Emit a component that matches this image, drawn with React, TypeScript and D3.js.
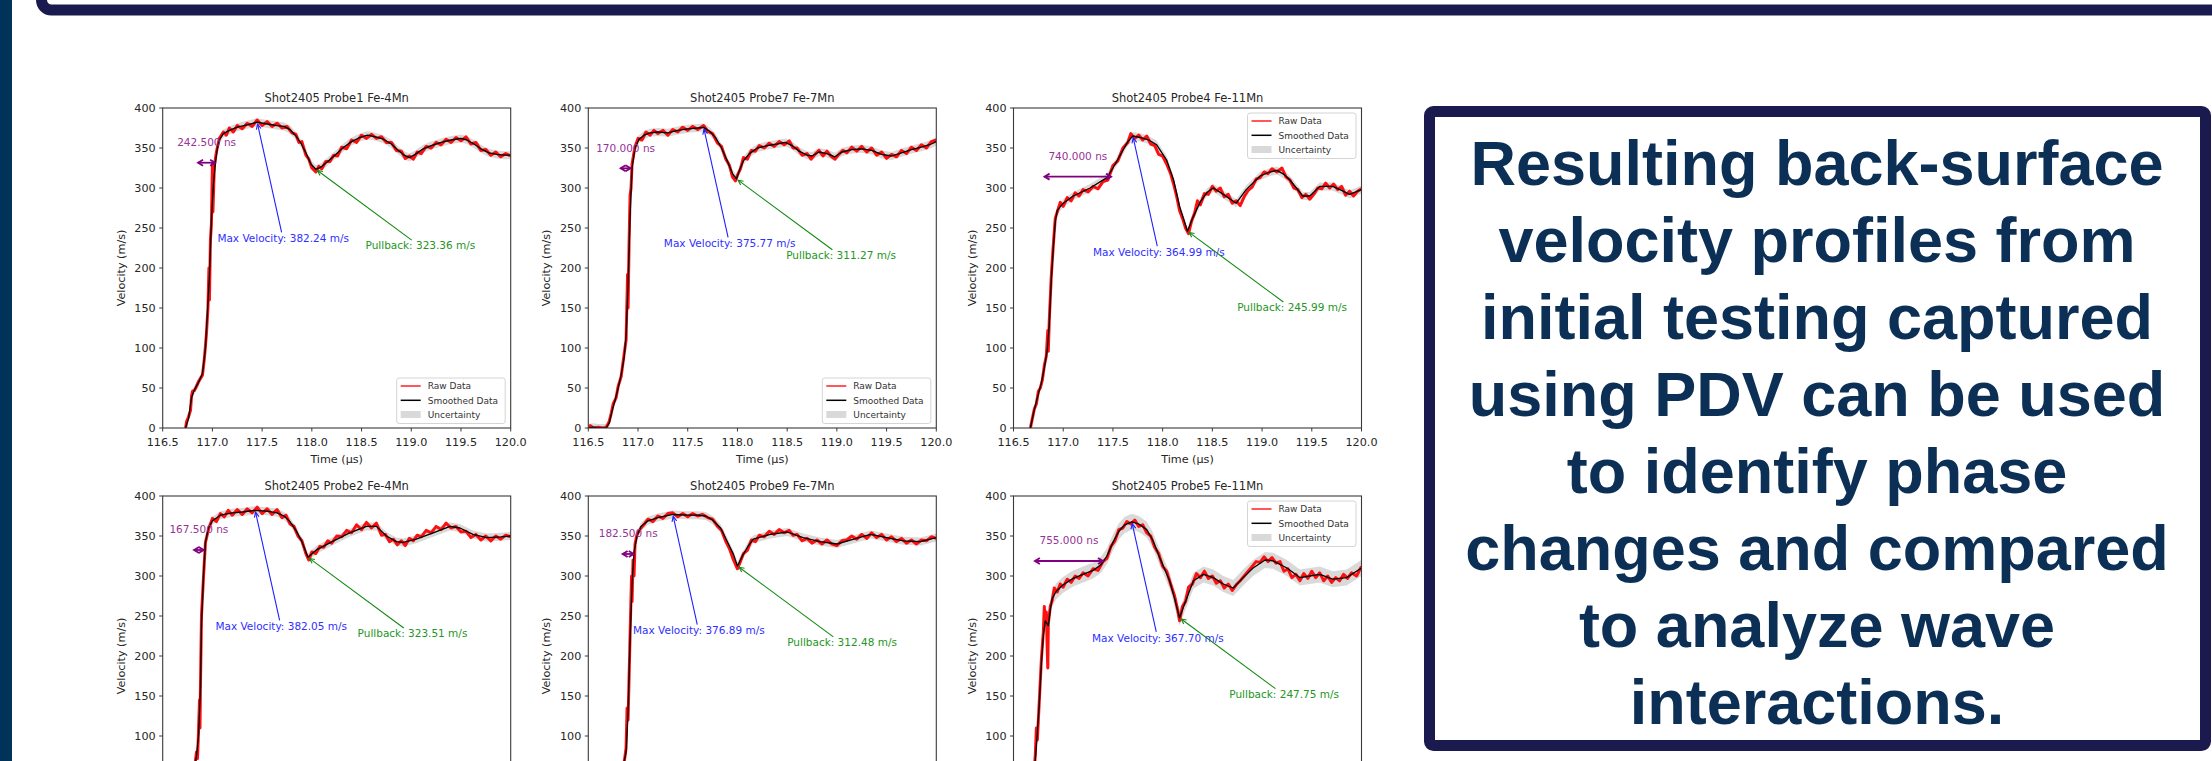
import React from 'react';
import * as d3 from 'd3';

type Pt = [number, number];

// ---- axes ----
const TIME_TICKS = [116.5, 117.0, 117.5, 118.0, 118.5, 119.0, 119.5, 120.0];
const VELOCITY_TICKS = [0, 50, 100, 150, 200, 250, 300, 350, 400];
const TIME_DOMAIN: Pt = [116.5, 120.0];
const VELOCITY_DOMAIN: Pt = [0, 400];

// ---- panel titles (row-major) ----
const PANEL_TITLES = [
  'Shot2405 Probe1 Fe-4Mn',
  'Shot2405 Probe7 Fe-7Mn',
  'Shot2405 Probe4 Fe-11Mn',
  'Shot2405 Probe2 Fe-4Mn',
  'Shot2405 Probe9 Fe-7Mn',
  'Shot2405 Probe5 Fe-11Mn',
];

// ---- annotated quantities ----
const MAX_VELOCITY = [382.24, 375.77, 364.99, 382.05, 376.89, 367.7];
const MAX_TIME = [117.45, 117.66, 117.7, 117.43, 117.35, 117.69];
const PULLBACK_VELOCITY = [323.36, 311.27, 245.99, 323.51, 312.48, 247.75];
const PULLBACK_TIME = [118.04, 117.99, 118.25, 117.96, 118.0, 118.17];
const RISE_NS = [242.5, 170.0, 740.0, 167.5, 182.5, 755.0];
const RISE_START = [116.82, 116.79, 116.777, 116.78, 116.81, 116.68];
const RISE_LEVEL = [331.6, 324.6, 314.2, 332.5, 327.5, 318.75];
const UNCERTAINTY = [5, 5, 5, 5, 5, 10];
const LEGEND_CORNER = ['lower', 'lower', 'upper', 'lower', 'lower', 'upper'];
const LEGEND_LABELS = ['Raw Data', 'Smoothed Data', 'Uncertainty'];

// ---- smoothed velocity traces [time µs, velocity m/s] ----
const SMOOTH_PROBE1: Pt[] = [
  [116.73, 0], [116.76, 12], [116.79, 38], [116.82, 48], [116.86, 57], [116.9, 68], [116.93, 100],
  [116.95, 144], [116.97, 190], [116.99, 260], [117.01, 305], [117.03, 332], [117.05, 350], [117.07, 360],
  [117.11, 368], [117.17, 372], [117.25, 376], [117.35, 379], [117.45, 382.24], [117.55, 380], [117.65, 378],
  [117.72, 377], [117.78, 373], [117.84, 365], [117.89, 356], [117.94, 344], [117.99, 330], [118.04, 323.36],
  [118.09, 326], [118.16, 333], [118.24, 342], [118.32, 351], [118.4, 358], [118.48, 363], [118.56, 366],
  [118.64, 364], [118.72, 361], [118.8, 355], [118.87, 347], [118.93, 341], [118.98, 338], [119.04, 342],
  [119.12, 349], [119.2, 353], [119.3, 357], [119.4, 360], [119.5, 362], [119.56, 360], [119.63, 355],
  [119.7, 349], [119.78, 344], [119.86, 342], [119.94, 341], [120.0, 341],
];
const SMOOTH_PROBE7: Pt[] = [
  [116.5, 0], [116.55, 1], [116.6, 0], [116.68, 0], [116.71, 6], [116.74, 22], [116.77, 35], [116.8, 50],
  [116.83, 66], [116.86, 88], [116.88, 115], [116.9, 180], [116.92, 265], [116.94, 325], [116.97, 350],
  [117.01, 361], [117.06, 366], [117.12, 369], [117.2, 370], [117.3, 369], [117.4, 372], [117.5, 374],
  [117.6, 375], [117.66, 375.77], [117.72, 371], [117.78, 363], [117.84, 350], [117.9, 333], [117.95, 318],
  [117.99, 311.27], [118.02, 322], [118.06, 334], [118.12, 343], [118.2, 350], [118.3, 353], [118.4, 355],
  [118.48, 357], [118.55, 353], [118.62, 346], [118.7, 341], [118.75, 340], [118.82, 345], [118.9, 343],
  [118.98, 339], [119.05, 345], [119.15, 348], [119.25, 349], [119.35, 347], [119.45, 342], [119.55, 340],
  [119.65, 344], [119.75, 348], [119.85, 351], [119.95, 355], [120.0, 358],
];
const SMOOTH_PROBE4: Pt[] = [
  [116.67, 0], [116.7, 18], [116.74, 38], [116.78, 56], [116.81, 75], [116.84, 98], [116.86, 130],
  [116.88, 185], [116.9, 225], [116.92, 258], [116.94, 272], [117.0, 281], [117.1, 290], [117.27, 300],
  [117.44, 313], [117.5, 325], [117.55, 336], [117.6, 347], [117.65, 358], [117.7, 364.99], [117.78, 363],
  [117.86, 360], [117.94, 354], [118.04, 335], [118.11, 310], [118.17, 277], [118.25, 245.99], [118.3, 262],
  [118.38, 283], [118.45, 295], [118.51, 300], [118.61, 292], [118.74, 281], [118.84, 298], [118.98, 315],
  [119.08, 320], [119.15, 322], [119.22, 317], [119.28, 310], [119.41, 290], [119.48, 290], [119.58, 302],
  [119.71, 302], [119.8, 297], [119.88, 292], [120.0, 298],
];
const SMOOTH_PROBE2: Pt[] = [
  [116.72, 0], [116.75, 15], [116.78, 35], [116.81, 55], [116.84, 75], [116.86, 100], [116.88, 160],
  [116.89, 240], [116.91, 300], [116.93, 342], [116.96, 360], [117.0, 369], [117.08, 376], [117.2, 379],
  [117.3, 380], [117.43, 382.05], [117.55, 381], [117.65, 379], [117.72, 375], [117.78, 368], [117.84, 357],
  [117.9, 343], [117.96, 323.51], [118.05, 333], [118.22, 344], [118.38, 354], [118.55, 362], [118.65, 362],
  [118.75, 350], [118.85, 343], [118.92, 342], [119.05, 346], [119.22, 354], [119.39, 362], [119.49, 360],
  [119.62, 352], [119.76, 348], [119.9, 349], [120.0, 350],
];
const SMOOTH_PROBE9: Pt[] = [
  [116.5, 0], [116.7, 0], [116.74, 10], [116.78, 30], [116.82, 50], [116.86, 68], [116.88, 80], [116.9, 130],
  [116.92, 220], [116.94, 290], [116.96, 330], [116.99, 350], [117.03, 362], [117.1, 369], [117.2, 373],
  [117.35, 376.89], [117.5, 376], [117.6, 376], [117.68, 375], [117.75, 370], [117.83, 360], [117.89, 345],
  [117.96, 327], [118.0, 312.48], [118.05, 325], [118.1, 336], [118.16, 346], [118.33, 352], [118.5, 355],
  [118.66, 348], [118.83, 343], [119.0, 340], [119.17, 346], [119.34, 352], [119.5, 348], [119.67, 344],
  [119.84, 343], [120.0, 348],
];
const SMOOTH_PROBE5: Pt[] = [
  [116.66, 0], [116.68, 20], [116.7, 42], [116.72, 72], [116.74, 105], [116.76, 142], [116.78, 190],
  [116.8, 226], [116.82, 244], [116.85, 238], [116.87, 258], [116.89, 272], [116.93, 281], [117.0, 289],
  [117.1, 297], [117.2, 302], [117.3, 307], [117.38, 314], [117.44, 325], [117.5, 342], [117.56, 356],
  [117.62, 364], [117.69, 367.7], [117.76, 365], [117.84, 358], [117.9, 345], [117.97, 323], [118.07, 294],
  [118.12, 272], [118.17, 247.75], [118.22, 265], [118.31, 294], [118.41, 302], [118.51, 298], [118.61, 290],
  [118.71, 285], [118.81, 298], [118.91, 310], [119.03, 320], [119.11, 319], [119.25, 310], [119.38, 298],
  [119.48, 300], [119.58, 302], [119.71, 296], [119.85, 298], [120.0, 310],
];

// ---- raw PDV traces ----
const RAW_PROBE1: Pt[] = [
  [116.73, 0], [116.74, 8], [116.76, 14], [116.78, 22], [116.79, 40], [116.8, 46], [116.82, 47], [116.84, 52],
  [116.86, 58], [116.88, 62], [116.9, 66], [116.92, 88], [116.94, 118], [116.955, 150], [116.965, 200],
  [116.97, 160], [116.98, 235], [116.99, 255], [117.0, 330], [117.005, 270], [117.015, 310], [117.02, 328],
  [117.04, 345], [117.07, 362], [117.11, 370], [117.14, 366], [117.17, 375], [117.21, 370], [117.25, 378],
  [117.3, 374], [117.35, 381], [117.4, 377], [117.45, 385], [117.5, 378], [117.55, 383], [117.6, 377],
  [117.65, 381], [117.7, 375], [117.75, 377], [117.8, 369], [117.84, 367], [117.87, 357], [117.9, 358],
  [117.94, 341], [117.97, 336], [118.0, 325], [118.04, 320], [118.07, 327], [118.1, 324], [118.14, 333],
  [118.18, 333], [118.22, 341], [118.26, 340], [118.3, 351], [118.35, 349], [118.4, 360], [118.45, 357],
  [118.5, 366], [118.55, 362], [118.6, 367], [118.65, 362], [118.7, 364], [118.75, 357], [118.8, 357],
  [118.85, 347], [118.9, 346], [118.94, 337], [118.98, 340], [119.02, 336], [119.06, 345], [119.1, 343],
  [119.15, 352], [119.2, 350], [119.25, 357], [119.3, 354], [119.35, 361], [119.4, 357], [119.45, 363],
  [119.5, 359], [119.55, 364], [119.6, 355], [119.65, 357], [119.7, 347], [119.75, 348], [119.8, 341],
  [119.85, 345], [119.9, 339], [119.95, 343], [120.0, 340],
];
const RAW_PROBE7: Pt[] = [
  [116.5, 0], [116.52, 3], [116.55, 0], [116.6, 1], [116.65, 0], [116.68, 1], [116.71, 8], [116.73, 18],
  [116.75, 30], [116.78, 38], [116.8, 52], [116.83, 64], [116.86, 92], [116.88, 110], [116.895, 192],
  [116.9, 150], [116.91, 230], [116.92, 290], [116.93, 300], [116.94, 330], [116.97, 352], [117.0, 362],
  [117.04, 360], [117.08, 370], [117.12, 366], [117.16, 372], [117.2, 368], [117.25, 372], [117.3, 366],
  [117.35, 373], [117.4, 370], [117.45, 376], [117.5, 372], [117.55, 377], [117.6, 373], [117.66, 378],
  [117.7, 371], [117.75, 368], [117.8, 356], [117.84, 352], [117.88, 337], [117.92, 328], [117.95, 314],
  [117.98, 309], [118.0, 316], [118.03, 324], [118.06, 338], [118.1, 336], [118.14, 347], [118.18, 346],
  [118.22, 353], [118.27, 350], [118.32, 356], [118.37, 352], [118.42, 358], [118.47, 354], [118.52, 359],
  [118.56, 350], [118.6, 350], [118.65, 341], [118.7, 343], [118.74, 336], [118.78, 342], [118.82, 347],
  [118.86, 340], [118.9, 346], [118.94, 340], [118.98, 336], [119.02, 342], [119.06, 347], [119.1, 344],
  [119.15, 351], [119.2, 346], [119.25, 352], [119.3, 345], [119.35, 350], [119.4, 341], [119.45, 345],
  [119.5, 337], [119.55, 342], [119.6, 339], [119.65, 347], [119.7, 343], [119.75, 351], [119.8, 347],
  [119.85, 354], [119.9, 350], [119.95, 358], [120.0, 360],
];
const RAW_PROBE4: Pt[] = [
  [116.67, 0], [116.69, 12], [116.71, 24], [116.73, 30], [116.75, 46], [116.77, 50], [116.79, 60],
  [116.81, 78], [116.83, 90], [116.845, 122], [116.85, 96], [116.86, 135], [116.88, 190], [116.9, 228],
  [116.92, 262], [116.94, 270], [116.97, 282], [117.0, 277], [117.04, 288], [117.08, 284], [117.12, 294],
  [117.16, 290], [117.2, 298], [117.25, 295], [117.3, 302], [117.35, 299], [117.4, 308], [117.45, 310],
  [117.5, 328], [117.55, 334], [117.6, 350], [117.65, 357], [117.68, 368], [117.72, 362], [117.76, 366],
  [117.8, 360], [117.84, 365], [117.88, 355], [117.92, 353], [117.96, 342], [118.0, 340], [118.04, 330],
  [118.08, 318], [118.11, 305], [118.14, 290], [118.17, 272], [118.2, 262], [118.23, 250], [118.26, 243],
  [118.29, 258], [118.32, 268], [118.35, 284], [118.38, 279], [118.42, 293], [118.46, 292], [118.5, 302],
  [118.54, 296], [118.58, 300], [118.62, 289], [118.66, 292], [118.7, 281], [118.74, 284], [118.78, 278],
  [118.82, 289], [118.86, 297], [118.9, 301], [118.94, 311], [118.98, 313], [119.02, 320], [119.06, 318],
  [119.1, 324], [119.15, 320], [119.2, 325], [119.24, 314], [119.28, 310], [119.32, 300], [119.36, 298],
  [119.4, 288], [119.44, 292], [119.48, 286], [119.52, 292], [119.56, 300], [119.6, 299], [119.64, 306],
  [119.68, 300], [119.72, 305], [119.76, 298], [119.8, 302], [119.84, 291], [119.88, 296], [119.92, 290],
  [119.96, 296], [120.0, 299],
];
const RAW_PROBE2: Pt[] = [
  [116.72, 0], [116.74, 10], [116.76, 22], [116.78, 32], [116.8, 50], [116.82, 60], [116.84, 80],
  [116.85, 72], [116.86, 105], [116.87, 145], [116.875, 110], [116.88, 165], [116.89, 250], [116.91, 298],
  [116.93, 342], [116.96, 358], [117.0, 372], [117.04, 368], [117.08, 378], [117.12, 374], [117.16, 382],
  [117.2, 376], [117.25, 383], [117.3, 377], [117.35, 384], [117.4, 379], [117.45, 386], [117.5, 378],
  [117.55, 384], [117.6, 377], [117.65, 383], [117.7, 373], [117.74, 376], [117.78, 365], [117.82, 362],
  [117.86, 350], [117.9, 344], [117.94, 328], [117.97, 320], [118.0, 330], [118.04, 328], [118.08, 337],
  [118.12, 336], [118.16, 344], [118.2, 341], [118.25, 350], [118.3, 349], [118.35, 357], [118.4, 354],
  [118.45, 364], [118.5, 358], [118.55, 367], [118.6, 360], [118.65, 366], [118.7, 351], [118.74, 352],
  [118.78, 343], [118.82, 346], [118.86, 339], [118.9, 344], [118.94, 338], [118.98, 347], [119.02, 344],
  [119.06, 351], [119.1, 349], [119.15, 357], [119.2, 354], [119.25, 362], [119.3, 358], [119.35, 366],
  [119.4, 360], [119.45, 362], [119.5, 355], [119.55, 356], [119.6, 348], [119.65, 352], [119.7, 345],
  [119.75, 350], [119.8, 344], [119.85, 350], [119.9, 346], [119.95, 351], [120.0, 349],
];
const RAW_PROBE9: Pt[] = [
  [116.5, 0], [116.6, 1], [116.7, 0], [116.74, 12], [116.78, 28], [116.82, 52], [116.86, 66], [116.88, 85],
  [116.89, 135], [116.9, 120], [116.92, 225], [116.935, 300], [116.94, 268], [116.95, 320], [116.96, 300],
  [116.97, 340], [116.99, 352], [117.03, 360], [117.07, 366], [117.1, 371], [117.15, 368], [117.2, 375],
  [117.25, 372], [117.3, 378], [117.35, 379], [117.4, 374], [117.45, 378], [117.5, 374], [117.55, 378],
  [117.6, 375], [117.65, 377], [117.7, 373], [117.75, 371], [117.8, 362], [117.84, 357], [117.88, 344],
  [117.92, 334], [117.96, 320], [118.0, 309], [118.03, 318], [118.06, 328], [118.1, 332], [118.14, 345],
  [118.18, 343], [118.22, 351], [118.27, 349], [118.32, 356], [118.37, 352], [118.42, 358], [118.47, 354],
  [118.52, 357], [118.56, 351], [118.6, 352], [118.65, 344], [118.7, 347], [118.75, 341], [118.8, 345],
  [118.85, 340], [118.9, 345], [118.95, 340], [119.0, 338], [119.05, 344], [119.1, 345], [119.15, 350],
  [119.2, 346], [119.25, 352], [119.3, 347], [119.35, 354], [119.4, 348], [119.45, 352], [119.5, 345],
  [119.55, 349], [119.6, 343], [119.65, 347], [119.7, 341], [119.75, 345], [119.8, 340], [119.85, 345],
  [119.9, 344], [119.95, 349], [120.0, 347],
];
const RAW_PROBE5: Pt[] = [
  [116.66, 0], [116.68, 22], [116.7, 40], [116.72, 78], [116.73, 110], [116.74, 95], [116.76, 145],
  [116.78, 195], [116.8, 230], [116.81, 262], [116.82, 238], [116.83, 255], [116.84, 205], [116.845, 185],
  [116.85, 240], [116.87, 262], [116.89, 270], [116.91, 285], [116.94, 280], [116.97, 290], [117.0, 286],
  [117.04, 296], [117.08, 292], [117.12, 300], [117.16, 297], [117.2, 304], [117.25, 300], [117.3, 309],
  [117.35, 307], [117.4, 318], [117.44, 322], [117.48, 337], [117.52, 344], [117.56, 358], [117.6, 360],
  [117.64, 368], [117.68, 365], [117.72, 370], [117.76, 362], [117.8, 364], [117.84, 354], [117.88, 350],
  [117.92, 336], [117.96, 328], [118.0, 312], [118.04, 306], [118.08, 290], [118.12, 275], [118.15, 258],
  [118.17, 244], [118.2, 262], [118.23, 268], [118.26, 286], [118.3, 290], [118.34, 303], [118.38, 298],
  [118.42, 306], [118.46, 297], [118.5, 300], [118.54, 291], [118.58, 294], [118.62, 285], [118.66, 290],
  [118.7, 282], [118.74, 289], [118.78, 294], [118.82, 300], [118.86, 306], [118.9, 312], [118.94, 318],
  [118.98, 317], [119.02, 324], [119.06, 318], [119.1, 323], [119.14, 316], [119.18, 318], [119.22, 306],
  [119.26, 309], [119.3, 298], [119.34, 302], [119.38, 294], [119.42, 303], [119.46, 297], [119.5, 306],
  [119.54, 298], [119.58, 304], [119.62, 294], [119.66, 300], [119.7, 292], [119.74, 298], [119.78, 294],
  [119.82, 302], [119.86, 297], [119.9, 304], [119.95, 300], [120.0, 312],
];

const SMOOTH_SERIES = [SMOOTH_PROBE1, SMOOTH_PROBE7, SMOOTH_PROBE4, SMOOTH_PROBE2, SMOOTH_PROBE9, SMOOTH_PROBE5];
const RAW_SERIES = [RAW_PROBE1, RAW_PROBE7, RAW_PROBE4, RAW_PROBE2, RAW_PROBE9, RAW_PROBE5];

// ---- summary note ----
const NOTE_LINES = [
  'Resulting back-surface',
  'velocity profiles from',
  'initial testing captured',
  'using PDV can be used',
  'to identify phase',
  'changes and compared',
  'to analyze wave',
  'interactions.',
];

// ---- layout ----
const W = 2212;
const H = 761;
const COL_LEFT = [162.7, 588.3, 1013.5];
const ROW_TOP = [108, 496];
const PLOT_W = 348;
const PLOT_H = 320;
const FONT = '"DejaVu Sans", sans-serif';
const INK = '#262626';
const TICK_SIZE = 11.2;

// a text line is drawn only when some of it lands on the canvas
const onCanvas = (baseline: number, size: number) => baseline - size * 0.8 < H;

let measureCtx: CanvasRenderingContext2D | null = null;
function textWidth(s: string, size: number): number {
  if (!measureCtx) measureCtx = document.createElement('canvas').getContext('2d');
  if (!measureCtx) return s.length * size * 0.6;
  measureCtx.font = `${size}px "DejaVu Sans"`;
  return measureCtx.measureText(s).width;
}

function head(tip: Pt, from: Pt, len: number, half: number): string {
  const dx = tip[0] - from[0];
  const dy = tip[1] - from[1];
  const d = Math.hypot(dx, dy) || 1;
  const ux = dx / d, uy = dy / d;
  const bx = tip[0] - ux * len, by = tip[1] - uy * len;
  return `M${bx - uy * half},${by + ux * half}L${tip[0]},${tip[1]}L${bx + uy * half},${by - ux * half}`;
}

// Arrow from a text box (clipped at its edge) to a data point.
function Callout({ label, tx, ty, target, color, textColor, size }: {
  label: string; tx: number; ty: number; target: Pt; color: string; textColor: string; size: number;
}) {
  const w = textWidth(label, size);
  const top = ty - 0.76 * size;
  const bottom = ty + 0.24 * size;
  const cx = tx + w / 2;
  const cy = (top + bottom) / 2;
  const dx = target[0] - cx;
  const dy = target[1] - cy;
  const d = Math.hypot(dx, dy);
  const ux = dx / d, uy = dy / d;
  const sx = Math.abs(dx) > 1e-6 ? (w / 2) / Math.abs(dx) : Infinity;
  const sy = Math.abs(dy) > 1e-6 ? ((bottom - top) / 2) / Math.abs(dy) : Infinity;
  const s = Math.min(sx, sy);
  const start: Pt = [cx + dx * s + ux * 2, cy + dy * s + uy * 2];
  const end: Pt = [target[0] - ux * 2, target[1] - uy * 2];
  return (
    <g>
      <line x1={start[0]} y1={start[1]} x2={end[0]} y2={end[1]} stroke={color} strokeWidth={1.1} />
      <path d={head(end, start, 5, 2.4)} fill="none" stroke={color} strokeWidth={1.1} />
      <text x={tx} y={ty} fontSize={size} fill={textColor} fontFamily={FONT}>{label}</text>
    </g>
  );
}

function Panel({ i }: { i: number }) {
  const left = COL_LEFT[i % 3];
  const top = ROW_TOP[Math.floor(i / 3)];
  const x = d3.scaleLinear().domain(TIME_DOMAIN).range([left, left + PLOT_W]);
  const y = d3.scaleLinear().domain(VELOCITY_DOMAIN).range([top + PLOT_H, top]);
  const smooth = SMOOTH_SERIES[i];
  const raw = RAW_SERIES[i];
  const sig = UNCERTAINTY[i];
  const clipId = `plot-clip-${i}`;

  const band = d3.area<Pt>().x(d => x(d[0])).y0(d => y(d[1] - sig)).y1(d => y(d[1] + sig))(smooth) || '';
  const line = d3.line<Pt>().x(d => x(d[0])).y(d => y(d[1]));
  const rawPath = line(raw) || '';
  const smoothPath = line(smooth) || '';

  const maxLabel = `Max Velocity: ${MAX_VELOCITY[i].toFixed(2)} m/s`;
  const pullLabel = `Pullback: ${PULLBACK_VELOCITY[i].toFixed(2)} m/s`;

  // rise-time double arrow
  const riseUs = RISE_NS[i] / 1000;
  const ra = x(RISE_START[i]) + 3.5;
  const rb = x(RISE_START[i] + riseUs) - 3.5;
  const ry = y(RISE_LEVEL[i]);
  const rMid = x(RISE_START[i] + riseUs / 2);

  // legend
  const lw = 108.5, lh = 45.5;
  const lx = left + PLOT_W - 5.5 - lw;
  const ly = LEGEND_CORNER[i] === 'upper' ? top + 5 : top + PLOT_H - 4.5 - lh;

  const xTickY = top + PLOT_H + 18;
  const xLabelY = top + PLOT_H + 35;

  return (
    <g>
      <defs>
        <clipPath id={clipId}>
          <rect x={left} y={top} width={PLOT_W} height={PLOT_H} />
        </clipPath>
      </defs>
      <g clipPath={`url(#${clipId})`}>
        <path d={band} fill="#b4b4b4" fillOpacity={0.5} />
        <path d={rawPath} fill="none" stroke="#ff1010" strokeWidth={3} strokeLinejoin="round" />
        <path d={smoothPath} fill="none" stroke="#000" strokeWidth={1.3} strokeLinejoin="round" />
      </g>

      {/* spines */}
      <rect x={left} y={top} width={PLOT_W} height={PLOT_H} fill="none" stroke="#3a3a3a" strokeWidth={1.1} />

      {/* x axis */}
      {TIME_TICKS.map(t => (
        <g key={`xt${t}`}>
          <line x1={x(t)} x2={x(t)} y1={top + PLOT_H} y2={top + PLOT_H + 3.5} stroke="#3a3a3a" strokeWidth={1} />
          {onCanvas(xTickY, TICK_SIZE) && (
            <text x={x(t)} y={xTickY} fontSize={TICK_SIZE} textAnchor="middle" fill={INK} fontFamily={FONT}>
              {t.toFixed(1)}
            </text>
          )}
        </g>
      ))}
      {onCanvas(xLabelY, TICK_SIZE) && (
        <text x={left + PLOT_W / 2} y={xLabelY} fontSize={TICK_SIZE} textAnchor="middle" fill={INK} fontFamily={FONT}>
          Time (µs)
        </text>
      )}

      {/* y axis */}
      {VELOCITY_TICKS.map(v => (
        <g key={`yt${v}`}>
          <line x1={left - 3.5} x2={left} y1={y(v)} y2={y(v)} stroke="#3a3a3a" strokeWidth={1} />
          {onCanvas(y(v) + 4, TICK_SIZE) && (
            <text x={left - 7} y={y(v) + 4} fontSize={TICK_SIZE} textAnchor="end" fill={INK} fontFamily={FONT}>{v}</text>
          )}
        </g>
      ))}
      <text transform={`translate(${left - 38},${top + PLOT_H / 2}) rotate(-90)`} fontSize={TICK_SIZE}
        textAnchor="middle" fill={INK} fontFamily={FONT}>Velocity (m/s)</text>

      <text x={left + PLOT_W / 2} y={top - 6.5} fontSize={11.5} textAnchor="middle" fill={INK} fontFamily={FONT}>
        {PANEL_TITLES[i]}
      </text>

      {/* rise time */}
      <line x1={ra} x2={rb} y1={ry} y2={ry} stroke="#800080" strokeWidth={1.8} />
      <path d={head([rb, ry], [ra, ry], 5, 3)} fill="none" stroke="#800080" strokeWidth={1.8} />
      <path d={head([ra, ry], [rb, ry], 5, 3)} fill="none" stroke="#800080" strokeWidth={1.8} />
      <text x={rMid} y={y(RISE_LEVEL[i] + 21)} fontSize={10.5} textAnchor="middle" fill="#963396" fontFamily={FONT}>
        {`${RISE_NS[i].toFixed(3)} ns`}
      </text>

      <Callout label={maxLabel} tx={x(MAX_TIME[i] - 0.4)} ty={y(MAX_VELOCITY[i] - 150)}
        target={[x(MAX_TIME[i]), y(MAX_VELOCITY[i])]} color="#2020ff" textColor="#2f2fff" size={10.5} />
      <Callout label={pullLabel} tx={x(PULLBACK_TIME[i] + 0.5)} ty={y(PULLBACK_VELOCITY[i] - 100)}
        target={[x(PULLBACK_TIME[i]), y(PULLBACK_VELOCITY[i])]} color="#138a13" textColor="#239623" size={10.5} />

      {/* legend */}
      {ly < H && (
        <g>
          <rect x={lx} y={ly} width={lw} height={lh} rx={2.5} fill="#fff" fillOpacity={0.85} stroke="#d4d4d4" strokeWidth={1} />
          <line x1={lx + 4} x2={lx + 24} y1={ly + 8} y2={ly + 8} stroke="#ff1010" strokeWidth={1.4} />
          <line x1={lx + 4} x2={lx + 24} y1={ly + 22.3} y2={ly + 22.3} stroke="#000" strokeWidth={1.5} />
          <rect x={lx + 4} y={ly + 33} width={20} height={7} fill="#b4b4b4" fillOpacity={0.5} />
          {LEGEND_LABELS.map((s, k) => (
            <text key={s} x={lx + 31} y={ly + 11.2 + k * 14.3} fontSize={9} fill="#333" fontFamily={FONT}>{s}</text>
          ))}
        </g>
      )}
    </g>
  );
}

export default function App() {
  const noteX = 1817;
  return (
    <svg width={W} height={H} viewBox={`0 0 ${W} ${H}`} style={{ position: 'absolute', left: 0, top: 0, display: 'block' }}>
      <rect width={W} height={H} fill="#fff" />
      {/* slide frame */}
      <rect x={0} y={0} width={12} height={H} fill="#003359" />
      <rect x={41.5} y={-60} width={2400} height={70} rx={10} fill="none" stroke="#1b1a4f" strokeWidth={11} />

      {d3.range(6).map(i => <Panel key={i} i={i} />)}

      {/* summary note */}
      <rect x={1429.5} y={111.5} width={776} height={634} rx={4} fill="#fff" stroke="#1b1a4f" strokeWidth={11} />
      {NOTE_LINES.map((s, k) => (
        <text key={k} x={noteX} y={185 + k * 77} textAnchor="middle" fontSize={63} fontWeight="bold"
          fontFamily='"Liberation Sans", Arial, sans-serif' fill="#0c2f56">{s}</text>
      ))}
    </svg>
  );
}
